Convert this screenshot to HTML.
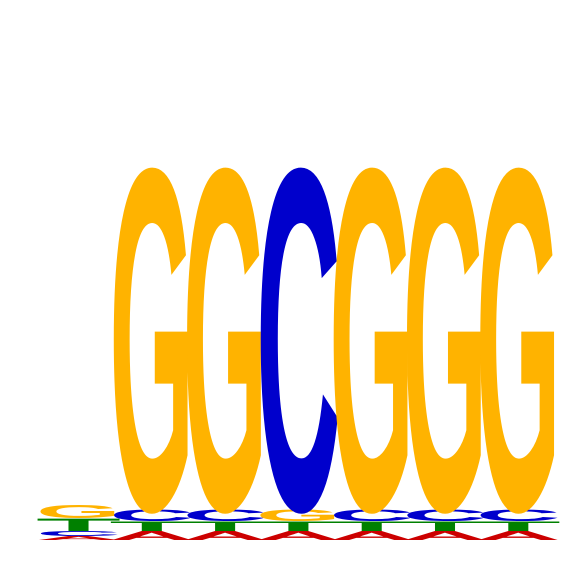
<!DOCTYPE html>
<html><head><meta charset="utf-8"><style>body{margin:0;background:#fff;overflow:hidden}svg{display:block}</style></head>
<body>
<svg id="logo" width="566" height="566" viewBox="0 0 566 566" xmlns="http://www.w3.org/2000/svg"></svg>
<script>
// letter heights (information units), bottom to top per position
const positions = [1,2,3,4,5,6,7];
const letterOrder = [
  ["A","C","T","G"],
  ["A","T","C","G"],
  ["A","T","C","G"],
  ["A","T","G","C"],
  ["A","T","C","G"],
  ["A","T","C","G"],
  ["A","T","C","G"]
];
const letterHeights = [
  [0.04,0.05,0.13,0.13],
  [0.09,0.10,0.12,3.52],
  [0.09,0.10,0.12,3.52],
  [0.09,0.10,0.12,3.52],
  [0.09,0.10,0.12,3.52],
  [0.09,0.10,0.12,3.52],
  [0.09,0.10,0.12,3.52]
];
const colors = {A:"#cc0000",C:"#0000cc",G:"#ffb300",T:"#008000"};
const svg = document.getElementById('logo');
const NS = "http://www.w3.org/2000/svg";
const x0 = 42, colW = 73.3, baseY = 540, pxPerUnit = 100;
function xScale(i){ return x0 + i*colW; }
function yScale(v){ return v*pxPerUnit; }
positions.forEach((p,i)=>{
  let y = baseY;
  const g = document.createElementNS(NS,'g');
  
  
  svg.appendChild(g);
  letterOrder[i].forEach((L,j)=>{
    const h = yScale(letterHeights[i][j]);
    const t = document.createElementNS(NS,'text');
    
    
    t.setAttribute('x',0); t.setAttribute('y',0);
    t.setAttribute('font-family','Liberation Sans, sans-serif');
    t.setAttribute('font-weight','bold');
    t.setAttribute('font-size','100');
    t.setAttribute('textLength', String(colW*1.16));
    t.setAttribute('lengthAdjust','spacingAndGlyphs');
    t.setAttribute('fill',colors[L]);
    t.setAttribute('transform','translate('+(xScale(i)-6)+','+y+') scale(1,'+(h/72)+')');
    t.textContent = L;
    g.appendChild(t);
    y -= h;
  });
});
</script>
</body></html>
